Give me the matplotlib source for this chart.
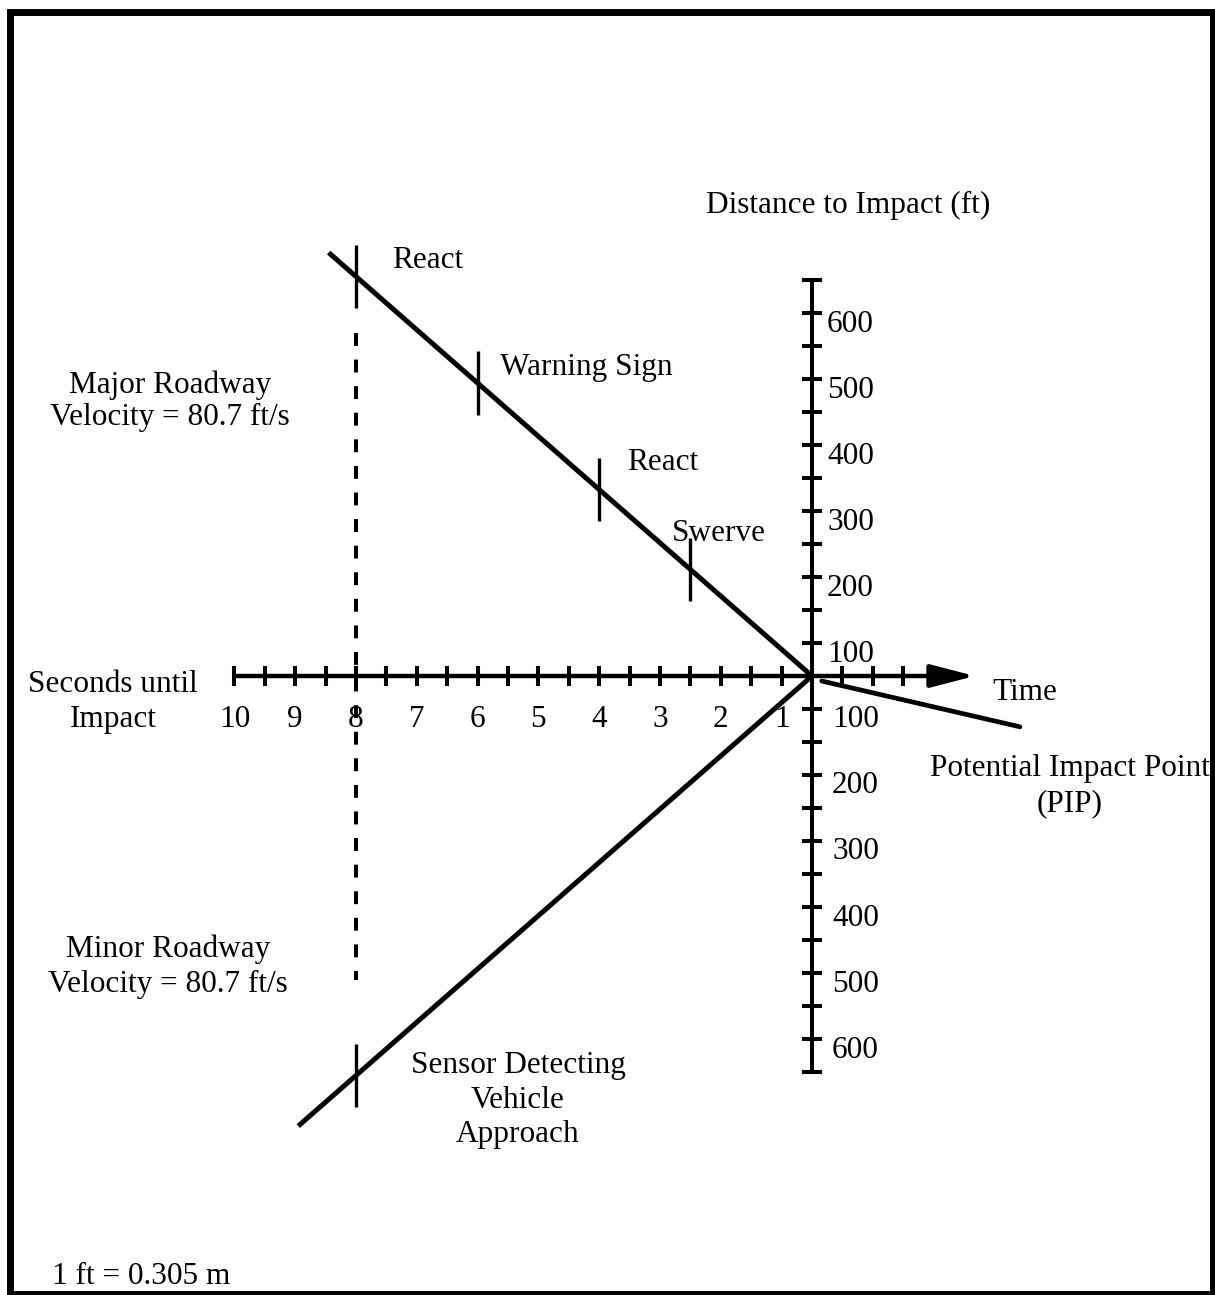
import numpy as np
import matplotlib.pyplot as plt
from matplotlib.patches import Rectangle

plt.rcParams['font.family'] = ['Liberation Serif', 'DejaVu Serif']
FS = 22.5

# ---- data ----
velocity = 80.7                      # ft/s, both roadways
time_labels = [10, 9, 8, 7, 6, 5, 4, 3, 2, 1]
dist_labels = [100, 200, 300, 400, 500, 600]
major_events = ['React', 'Warning Sign', 'React', 'Swerve']
major_event_t = [8, 6, 4, 2.5]
sensor_t = 8
major_start_t = 8.45
minor_start_t = 8.95
pip_t = 0.5        # printed time where the two axes cross
pip_d = 50         # printed distance where the two axes cross
tick_step_t = 0.5
tick_step_d = 50
axis_left_t = 10
axis_right_t = -1.0
arrow_tip_t = -2.18
axis_end_d = 650
dash_top_d, dash_bottom_d = 570, 510

# plot coordinates: origin at the crossing point
def px(t):
    return np.asarray(t, dtype=float) - pip_t

def up(d):
    return np.asarray(d, dtype=float) - pip_d

def down(d):
    return -(np.asarray(d, dtype=float) - pip_d)

W, H = 1215, 1295
fig = plt.figure(figsize=(W / 100, H / 100), dpi=100)
ax = fig.add_axes([0, 0, 1, 1])
ox, oy, sx, sy = 812, 676, 60.8, 0.66
ax.set_xlim(ox / sx, (ox - W) / sx)
ax.set_ylim(-(H - oy) / sy, oy / sy)
ax.axis('off')

def figxy(x, y):
    return x / W, 1 - y / H

# border
fig.patches.append(Rectangle(figxy(9.5, 1294), 1203.5 / W, 1282.5 / H,
                             transform=fig.transFigure, fill=False,
                             lw=5, ec='black'))

# time axis with arrow
ax.plot([px(axis_left_t), px(axis_right_t)], [0, 0], color='black', lw=3.2,
        solid_capstyle='butt')
ax.annotate('', xy=(px(arrow_tip_t), 0), xytext=(px(axis_right_t), 0),
            arrowprops=dict(arrowstyle='-|>,head_length=2.7,head_width=0.7',
                            mutation_scale=10, lw=3.2, color='black',
                            shrinkA=0, shrinkB=0))
tt = np.arange(px(axis_right_t), px(axis_left_t) + 0.01, tick_step_t)
tt = tt[np.abs(tt) > 1e-6]
ax.plot(tt, np.zeros_like(tt), '|', ms=14.5, mew=2.9, color='black')

# distance axis
ax.plot([0, 0], [up(axis_end_d), down(axis_end_d)], color='black', lw=2.9,
        solid_capstyle='butt')
dt = np.arange(down(axis_end_d), up(axis_end_d) + 1, tick_step_d)
dt = dt[np.abs(dt) > 1e-6]
ax.plot(np.zeros_like(dt), dt, '_', ms=14, mew=2.9, color='black')

for t in time_labels:
    ax.annotate(str(t), (px(t), 0), xytext=(0, -44), textcoords='offset pixels',
                ha='center', va='center', fontsize=FS)
for d in dist_labels:
    ax.annotate(str(d), (0, up(d)), xytext=(15, -12), textcoords='offset pixels',
                ha='left', va='center', fontsize=FS)
    ax.annotate(str(d), (0, down(d)), xytext=(20, -11), textcoords='offset pixels',
                ha='left', va='center', fontsize=FS)

# roadway lines
xm = np.array([px(major_start_t), 0])
ax.plot(xm, velocity * xm, color='black', lw=3.6, solid_capstyle='butt')
xn = np.array([px(minor_start_t), 0])
ax.plot(xn, -velocity * xn, color='black', lw=3.6, solid_capstyle='butt')

# events on major roadway
label_off = [(36, 16), (22, 16), (28, 27), (-19, 36)]
ex = px(major_event_t)
ey = velocity * ex
ax.vlines(ex, ey - 48, ey + 48, color='black', lw=2.4)
for name, x, y, (dx, dy) in zip(major_events, ex, ey, label_off):
    ax.annotate(name, (x, y), xytext=(dx, dy), textcoords='offset pixels',
                ha='left', va='center', fontsize=FS)

# sensor on minor roadway + dashed line
sx_ = px(sensor_t)
sy_ = -velocity * sx_
ax.vlines(sx_, sy_ - 48, sy_ + 48, color='black', lw=2.4)
ax.plot([sx_, sx_], [up(dash_top_d), down(dash_bottom_d)], color='black',
        lw=2.9, dashes=(3.2, 3.4), solid_capstyle='butt')

# PIP leader
ax.annotate('', xy=(-0.16, -7.6), xytext=(-3.42, -77),
            arrowprops=dict(arrowstyle='-', lw=3.4, color='black',
                            shrinkA=0, shrinkB=0))

# free text
def txt(x, y, s, ha='center', ls=1.25):
    fig.text(*figxy(x, y + 4), s, ha=ha, va='center', fontsize=FS,
             multialignment='center', linespacing=ls)

txt(706, 201, 'Distance to Impact (ft)', ha='left')
txt(170, 397, 'Major Roadway\nVelocity = 80.7 ft/s', ls=1.15)
txt(113, 698, 'Seconds until\nImpact')
txt(992, 688, 'Time', ha='left')
txt(1070, 782, 'Potential Impact Point\n(PIP)')
txt(168, 963, 'Minor Roadway\nVelocity = 80.7 ft/s')
txt(518, 1096, 'Sensor Detecting\nVehicle\nApproach')
txt(52, 1273, '1 ft = 0.305 m', ha='left')

fig.savefig('out.png', dpi=100)
